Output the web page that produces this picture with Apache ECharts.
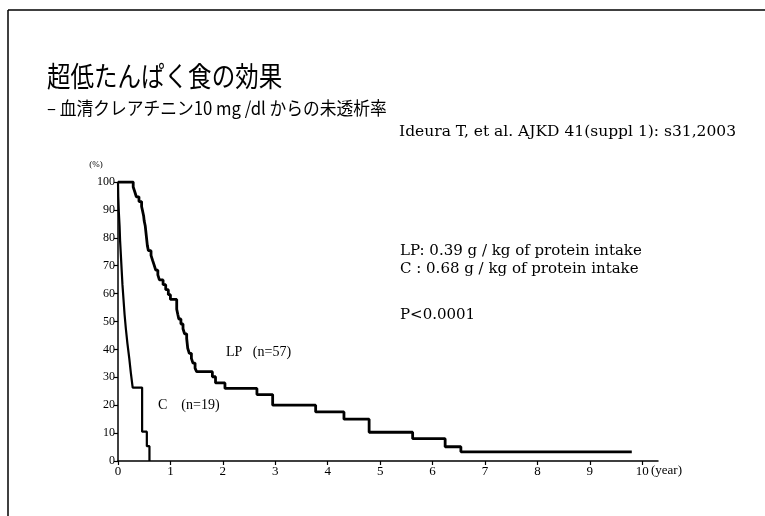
<!DOCTYPE html>
<html>
<head>
<meta charset="utf-8">
<script src="https://cdn.jsdelivr.net/npm/echarts@6/dist/echarts.min.js"></script>
<style>
  html, body { margin: 0; padding: 0; background: #fff; }
  #chart { width: 765px; height: 516px; }
</style>
</head>
<body>
<div id="chart"></div>
<script>
// Kaplan-Meier style curves
const lpYears  = [0, 0.29, 0.32, 0.35, 0.40, 0.45, 0.47, 0.49, 0.50, 0.52, 0.54, 0.56, 0.58, 0.63, 0.66, 0.69, 0.72, 0.76, 0.79, 0.86, 0.91, 0.96, 1.00, 1.12, 1.14, 1.16, 1.20, 1.24, 1.27, 1.31, 1.33, 1.36, 1.40, 1.43, 1.47, 1.50, 1.80, 1.86, 2.04, 2.65, 2.95, 3.77, 4.31, 4.79, 5.62, 6.24, 6.54, 9.80];
const lpValues = [100, 98.2, 96.5, 94.7, 93.0, 91.2, 89.5, 87.7, 86.0, 84.2, 80.7, 77.2, 75.4, 73.7, 71.9, 70.2, 68.4, 66.7, 64.9, 63.2, 61.4, 59.6, 57.9, 54.4, 52.6, 50.9, 49.1, 47.4, 45.6, 43.9, 40.4, 38.6, 36.8, 35.1, 33.3, 32.0, 30.2, 28.0, 26.0, 23.8, 20.0, 17.6, 15.0, 10.3, 8.0, 5.1, 3.3, 3.3];

const cYears  = [0, 0.005, 0.015, 0.03, 0.04, 0.055, 0.07, 0.085, 0.105, 0.125, 0.15, 0.18, 0.215, 0.245, 0.28, 0.46, 0.55, 0.60];
const cValues = [100, 94.7, 89.5, 84.2, 78.9, 73.7, 68.4, 63.2, 57.9, 52.6, 47.4, 42.1, 36.8, 31.6, 26.3, 10.5, 5.3, 0];

const xTicks = [0, 1, 2, 3, 4, 5, 6, 7, 8, 9, 10];

const titleText = '超低たんぱく食の効果';
const subText = '– 血清クレアチニン10 mg /dl からの未透析率';
const citeText = 'Ideura T, et al. AJKD 41(suppl 1): s31,2003';
const noteLines = ['LP: 0.39 g / kg of protein intake', 'C : 0.68 g / kg of protein intake', 'P<0.0001'];

const chart = echarts.init(document.getElementById('chart'));

const toPairs = (xs, ys) => xs.map((x, i) => [x, ys[i]]);
const serif = '"Liberation Serif", serif';
const wideSerif = '"DejaVu Serif", serif';
const cjk = '"Noto Sans CJK JP", sans-serif';

const option = {
  backgroundColor: '#fff',
  animation: false,
  grid: { left: 118, right: 107, top: 182, bottom: 55 },
  xAxis: {
    type: 'value',
    min: 0,
    max: 10.3,
    interval: 1,
    splitLine: { show: false },
    axisLine: { lineStyle: { color: '#000', width: 1.5 } },
    axisTick: { length: 4, customValues: xTicks, lineStyle: { color: '#000', width: 1.2 } },
    axisLabel: { customValues: xTicks, color: '#000', fontFamily: serif, fontSize: 13, margin: 4 }
  },
  yAxis: {
    type: 'value',
    min: 0,
    max: 100,
    interval: 10,
    splitLine: { show: false },
    axisLine: { show: true, lineStyle: { color: '#000', width: 1.5 } },
    axisTick: { show: true, length: 4, lineStyle: { color: '#000', width: 1.2 } },
    axisLabel: { color: '#000', fontFamily: serif, fontSize: 12, margin: 3 }
  },
  series: [
    {
      name: 'LP',
      type: 'line',
      step: 'end',
      symbol: 'none',
      data: toPairs(lpYears, lpValues),
      lineStyle: { color: '#000', width: 2.8 }
    },
    {
      name: 'C',
      type: 'line',
      step: 'end',
      symbol: 'none',
      data: toPairs(cYears, cValues),
      lineStyle: { color: '#000', width: 2.2 }
    }
  ],
  graphic: [
    // slide frame
    { type: 'line', shape: { x1: 8, y1: 10, x2: 765, y2: 10 }, style: { stroke: '#000', lineWidth: 1.5 } },
    { type: 'line', shape: { x1: 8, y1: 10, x2: 8, y2: 516 }, style: { stroke: '#000', lineWidth: 1.5 } },
    { type: 'text', x: 47, y: 62, scaleX: 0.84,
      style: { text: titleText, font: '28px ' + cjk, fill: '#000', textVerticalAlign: 'top' } },
    { type: 'text', x: 47, y: 99, scaleX: 0.93,
      style: { text: subText, font: '18px ' + cjk, fill: '#000', textVerticalAlign: 'top' } },
    { type: 'text', x: 736, y: 124,
      style: { text: citeText, font: '15.5px ' + wideSerif, fill: '#000', textAlign: 'right', textVerticalAlign: 'top' } },
    { type: 'text', x: 400, y: 244,
      style: { text: noteLines[0], font: '15px ' + wideSerif, fill: '#000', textVerticalAlign: 'top' } },
    { type: 'text', x: 400, y: 262,
      style: { text: noteLines[1], font: '15px ' + wideSerif, fill: '#000', textVerticalAlign: 'top' } },
    { type: 'text', x: 400, y: 308,
      style: { text: noteLines[2], font: '15px ' + wideSerif, fill: '#000', textVerticalAlign: 'top' } },
    { type: 'text', x: 226, y: 352,
      style: { text: 'LP   (n=57)', font: '14px ' + serif, fill: '#000', textVerticalAlign: 'middle' } },
    { type: 'text', x: 158, y: 405,
      style: { text: 'C    (n=19)', font: '14px ' + serif, fill: '#000', textVerticalAlign: 'middle' } },
    { type: 'text', x: 96, y: 165,
      style: { text: '(%)', font: '9px ' + serif, fill: '#000', textAlign: 'center', textVerticalAlign: 'middle' } },
    { type: 'text', x: 651, y: 471,
      style: { text: '(year)', font: '13px ' + serif, fill: '#000', textVerticalAlign: 'middle' } }
  ]
};

chart.setOption(option);
</script>
</body>
</html>
